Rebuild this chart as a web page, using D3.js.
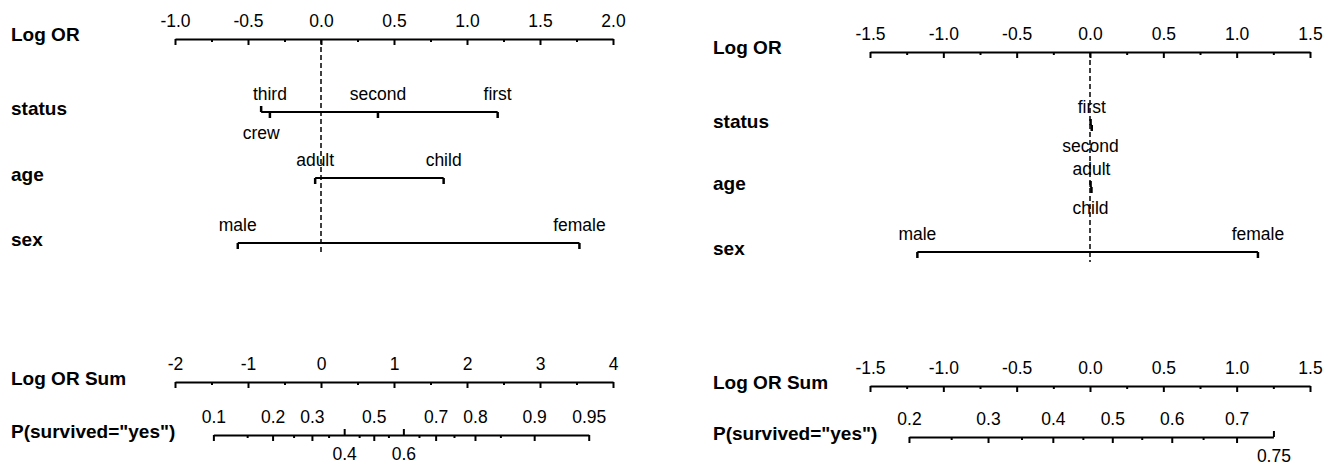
<!DOCTYPE html>
<html>
<head>
<meta charset="utf-8">
<script src="https://cdn.jsdelivr.net/npm/d3@7"></script>
<style>
body { margin: 0; background: #fff; }
text { font-family: "Liberation Sans", Arial, sans-serif; fill: #000; }
</style>
</head>
<body>
<div id="chart"></div>
<script>
// ---- left nomogram (log odds ratios) ----
var leftAttrs = ["status", "age", "sex"];
var leftLevels = [["first", "second", "third", "crew"], ["adult", "child"], ["male", "female"]];
var leftLogOR = [[1.21, 0.39, -0.35, -0.41], [-0.04, 0.84], [-0.57, 1.77]];
var leftORTicks = [-1.0, -0.5, 0.0, 0.5, 1.0, 1.5, 2.0];
var leftORMinor = [-0.75, -0.25, 0.25, 0.75, 1.25, 1.75];
var leftSumTicks = [-2, -1, 0, 1, 2, 3, 4];
var leftSumMinor = [-1.5, -0.5, 0.5, 1.5, 2.5, 3.5];
var leftProbTicks = [0.1, 0.2, 0.3, 0.4, 0.5, 0.6, 0.7, 0.8, 0.9, 0.95];
var leftProbLabels = ["0.1", "0.2", "0.3", "0.4", "0.5", "0.6", "0.7", "0.8", "0.9", "0.95"];
var leftProbMinor = [0.15, 0.25, 0.35, 0.45, 0.55, 0.65, 0.75, 0.85];
var leftSumShift = 0.723;   // sum = logit(p) + shift

// ---- right nomogram ----
var rightAttrs = ["status", "age", "sex"];
var rightLevels = [["first", "second"], ["adult", "child"], ["male", "female"]];
var rightLogOR = [[0.012, 0.004], [0.01, 0.004], [-1.177, 1.145]];
var rightORTicks = [-1.5, -1.0, -0.5, 0.0, 0.5, 1.0, 1.5];
var rightORMinor = [-1.25, -0.75, -0.25, 0.25, 0.75, 1.25];
var rightSumTicks = [-1.5, -1.0, -0.5, 0.0, 0.5, 1.0, 1.5];
var rightSumMinor = [-1.25, -0.75, -0.25, 0.25, 0.75, 1.25];
var rightProbTicks = [0.2, 0.3, 0.4, 0.5, 0.6, 0.7, 0.75];
var rightProbLabels = ["0.2", "0.3", "0.4", "0.5", "0.6", "0.7", "0.75"];
var rightProbMinor = [0.25, 0.35, 0.45, 0.55, 0.65];
var rightSumShift = 0.152;

var target = "survived", targetClass = "yes";

var width = 1341, height = 466;
var svg = d3.select("#chart").append("svg")
    .attr("width", width)
    .attr("height", height);

var fontSize = 17.5, boldSize = 19;
var logit = function(p) { return Math.log(p / (1 - p)); };

// keep a label above the line unless it hits one already above, then put it under
function pickSides(xs, ws, pad) {
    var above = [];
    return xs.map(function(x, i) {
        var free = above.every(function(j) {
            return Math.abs(xs[j] - x) >= (ws[j] + ws[i]) / 2 + pad;
        });
        if (free) { above.push(i); return false; }
        return true;
    });
}

function styleAxis(g) {
    g.attr("font-family", null).attr("font-size", null);
    g.select(".domain").attr("stroke", "#000").attr("stroke-width", 2);
    g.selectAll(".tick line").attr("stroke", "#000").attr("stroke-width", 2);
    g.selectAll(".tick text")
        .attr("font-size", fontSize)
        .attr("y", -12)
        .attr("dy", null);
}

function minorTicks(g, scale, values) {
    g.call(d3.axisBottom(scale).tickValues(values).tickSize(3).tickFormat(""));
    g.select(".domain").remove();
    g.selectAll(".tick line").attr("stroke", "#000").attr("stroke-width", 2);
}

function drawPanel(p) {
    var panel = svg.append("g");

    var x = d3.scaleLinear()
        .domain([p.orTicks[0], p.orTicks[p.orTicks.length - 1]])
        .range([p.x0, p.x1]);

    // Log OR axis
    var orAxis = panel.append("g")
        .attr("transform", "translate(0," + p.axisY + ")")
        .call(d3.axisBottom(x).tickValues(p.orTicks).tickSize(6).tickSizeOuter(0)
            .tickFormat(function(d) { return d.toFixed(1); }));
    styleAxis(orAxis);
    minorTicks(panel.append("g").attr("transform", "translate(0," + p.axisY + ")"), x, p.orMinor);

    panel.append("text")
        .attr("x", p.labelX).attr("y", p.axisY + 2)
        .attr("font-size", boldSize).attr("font-weight", "bold")
        .text("Log OR");

    // dashed zero line
    panel.append("line")
        .attr("x1", x(0)).attr("x2", x(0))
        .attr("y1", p.axisY).attr("y2", p.dashEnd)
        .attr("stroke", "#000")
        .attr("stroke-width", 1.5)
        .attr("stroke-dasharray", "5,3");

    // attribute rows
    p.attrs.forEach(function(name, r) {
        var y = p.rows[r];
        var vals = p.ors[r];
        var row = panel.append("g");

        row.append("text")
            .attr("x", p.labelX).attr("y", y + 3)
            .attr("font-size", boldSize).attr("font-weight", "bold")
            .text(name);

        row.append("line")
            .attr("x1", x(d3.min(vals))).attr("x2", x(d3.max(vals)))
            .attr("y1", y).attr("y2", y)
            .attr("stroke", "#000").attr("stroke-width", 2);

        var labels = row.selectAll("text.lvl")
            .data(p.levels[r])
            .enter()
            .append("text")
                .attr("class", "lvl")
                .attr("x", function(d, i) { return x(vals[i]); })
                .attr("text-anchor", "middle")
                .attr("font-size", fontSize)
                .text(function(d) { return d; });

        var ws = labels.nodes().map(function(n) { return n.getComputedTextLength(); });
        var below = pickSides(vals.map(x), ws, 11);

        labels.attr("y", function(d, i) { return below[i] ? y + 27 : y - 12; });

        row.selectAll("line.tk")
            .data(vals)
            .enter()
            .append("line")
                .attr("class", "tk")
                .attr("x1", function(d) { return x(d); })
                .attr("x2", function(d) { return x(d); })
                .attr("y1", y)
                .attr("y2", function(d, i) { return below[i] ? y - 6 : y + 6; })
                .attr("stroke", "#000").attr("stroke-width", 2.5);
    });

    // Log OR Sum axis
    var sx = d3.scaleLinear()
        .domain([p.sumTicks[0], p.sumTicks[p.sumTicks.length - 1]])
        .range([p.x0, p.x1]);
    var sumAxis = panel.append("g")
        .attr("transform", "translate(0," + p.sumY + ")")
        .call(d3.axisBottom(sx).tickValues(p.sumTicks).tickSize(6).tickSizeOuter(0)
            .tickFormat(p.sumFormat));
    styleAxis(sumAxis);
    minorTicks(panel.append("g").attr("transform", "translate(0," + p.sumY + ")"), sx, p.sumMinor);

    panel.append("text")
        .attr("x", p.labelX).attr("y", p.sumY + 3)
        .attr("font-size", boldSize).attr("font-weight", "bold")
        .text("Log OR Sum");

    // probability axis, linear in logit space
    var pLo = p.probTicks[0], pHi = p.probTicks[p.probTicks.length - 1];
    var px = d3.scaleLinear()
        .domain([logit(pLo), logit(pHi)])
        .range([sx(logit(pLo) + p.shift), sx(logit(pHi) + p.shift)]);

    var probAxis = panel.append("g")
        .attr("transform", "translate(0," + p.probY + ")")
        .call(d3.axisBottom(px).tickValues(p.probTicks.map(logit)).tickSize(6).tickSizeOuter(0)
            .tickFormat(function(d, i) { return p.probLabels[i]; }));
    styleAxis(probAxis);
    minorTicks(panel.append("g").attr("transform", "translate(0," + p.probY + ")"),
        px, p.probMinor.map(logit));

    var ticks = probAxis.selectAll(".tick");
    var pw = ticks.select("text").nodes().map(function(n) { return n.getComputedTextLength(); });
    var pBelow = pickSides(p.probTicks.map(function(v) { return px(logit(v)); }), pw, 11);
    ticks.each(function(d, i) {
        if (!pBelow[i]) return;
        var t = d3.select(this);
        t.select("line").attr("y2", -6);
        t.select("text").attr("y", 25);
    });

    panel.append("text")
        .attr("x", p.labelX).attr("y", p.probY + 3)
        .attr("font-size", boldSize).attr("font-weight", "bold")
        .text("P(" + target + "=\"" + targetClass + "\")");
}

drawPanel({
    x0: 175, x1: 613, labelX: 11,
    axisY: 39, rows: [112, 178, 243], dashEnd: 253, sumY: 382, probY: 435,
    attrs: leftAttrs, levels: leftLevels, ors: leftLogOR,
    orTicks: leftORTicks, orMinor: leftORMinor,
    sumTicks: leftSumTicks, sumMinor: leftSumMinor,
    sumFormat: function(d) { return d.toFixed(0); },
    probTicks: leftProbTicks, probLabels: leftProbLabels, probMinor: leftProbMinor,
    shift: leftSumShift
});

drawPanel({
    x0: 870, x1: 1310, labelX: 713,
    axisY: 52, rows: [125, 187, 252], dashEnd: 262, sumY: 386, probY: 437,
    attrs: rightAttrs, levels: rightLevels, ors: rightLogOR,
    orTicks: rightORTicks, orMinor: rightORMinor,
    sumTicks: rightSumTicks, sumMinor: rightSumMinor,
    sumFormat: function(d) { return d.toFixed(1); },
    probTicks: rightProbTicks, probLabels: rightProbLabels, probMinor: rightProbMinor,
    shift: rightSumShift
});
</script>
</body>
</html>
